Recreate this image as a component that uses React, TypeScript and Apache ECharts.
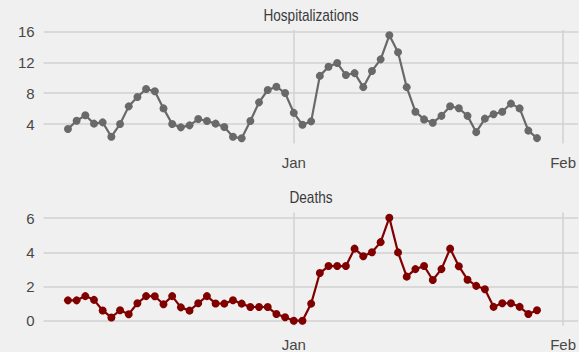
import React, { useEffect, useRef } from "react";
import * as echarts from "echarts";

const dates: string[] = [
  "2020-12-06", "2020-12-07", "2020-12-08", "2020-12-09", "2020-12-10", "2020-12-11", "2020-12-12",
  "2020-12-13", "2020-12-14", "2020-12-15", "2020-12-16", "2020-12-17", "2020-12-18", "2020-12-19",
  "2020-12-20", "2020-12-21", "2020-12-22", "2020-12-23", "2020-12-24", "2020-12-25", "2020-12-26",
  "2020-12-27", "2020-12-28", "2020-12-29", "2020-12-30", "2020-12-31", "2021-01-01", "2021-01-02",
  "2021-01-03", "2021-01-04", "2021-01-05", "2021-01-06", "2021-01-07", "2021-01-08", "2021-01-09",
  "2021-01-10", "2021-01-11", "2021-01-12", "2021-01-13", "2021-01-14", "2021-01-15", "2021-01-16",
  "2021-01-17", "2021-01-18", "2021-01-19", "2021-01-20", "2021-01-21", "2021-01-22", "2021-01-23",
  "2021-01-24", "2021-01-25", "2021-01-26", "2021-01-27", "2021-01-28", "2021-01-29",
];

const hospitalizations: number[] = [
  3.35, 4.43, 5.13, 4.05, 4.22, 2.36, 4.0, 6.29, 7.5, 8.54, 8.24, 6.03, 4.0, 3.57,
  3.83, 4.65, 4.39, 4.05, 3.61, 2.36, 2.15, 4.39, 6.81, 8.41, 8.84, 8.02, 5.45, 3.9,
  4.35, 10.24, 11.43, 11.9, 10.35, 10.6, 8.78, 10.88, 12.38, 15.5, 13.29, 8.78, 5.6, 4.6,
  4.17, 5.06, 6.3, 6.05, 5.06, 2.95, 4.7, 5.26, 5.6, 6.65, 6.03, 3.15, 2.18,
];

const deaths: number[] = [
  1.19, 1.19, 1.44, 1.22, 0.6, 0.19, 0.61, 0.38, 1.02, 1.44, 1.43, 0.96, 1.44, 0.78,
  0.59, 1.02, 1.44, 1.01, 1.0, 1.2, 1.0, 0.8, 0.8, 0.8, 0.39, 0.2, 0.0, 0.0,
  1.0, 2.79, 3.2, 3.2, 3.2, 4.22, 3.77, 4.01, 4.6, 6.03, 4.0, 2.58, 3.02, 3.2,
  2.38, 3.02, 4.22, 3.19, 2.4, 2.04, 1.84, 0.81, 1.02, 1.02, 0.81, 0.39, 0.61,
];

const hospTicks: number[] = [4, 8, 12, 16];
const deathTicks: number[] = [0, 2, 4, 6];
const monthTicks: string[] = ["2021-01-01", "2021-02-01"];
const monthLabels: string[] = ["Jan", "Feb"];
const titles: string[] = ["Hospitalizations", "Deaths"];

const DAY = 86400000;
const toTs = (s: string) => {
  const [y, m, d] = s.split("-").map(Number);
  return Date.UTC(y, m - 1, d);
};

const FONT = "'Liberation Sans', Arial, sans-serif";
const TEXT = "#474747";
const GRID = "#d2d2d2";

export default function App() {
  const ref = useRef<HTMLDivElement>(null);
  useEffect(() => {
    if (!ref.current) return;
    const chart = echarts.init(ref.current, null, { renderer: "svg" });
    const t0 = toTs(dates[0]);
    const xMin = t0 - 2.8 * DAY;
    const xMax = t0 + 58.74 * DAY;
    const monthTs = monthTicks.map(toTs);
    const fmt = (v: number) => {
      const i = monthTs.findIndex((t) => Math.abs(t - v) < DAY / 2);
      return i >= 0 ? monthLabels[i] : "";
    };
    const mkX = (gridIndex: number) => ({
      type: "value" as const,
      gridIndex,
      min: xMin,
      max: xMax,
      axisLine: { show: false },
      axisTick: { show: false, customValues: monthTs },
      axisLabel: {
        customValues: monthTs,
        formatter: fmt,
        color: TEXT,
        fontFamily: FONT,
        fontSize: 15,
        margin: 11,
      },
      splitLine: { show: true, lineStyle: { color: GRID, width: 1.5 } },
    });
    const mkY = (gridIndex: number, min: number, max: number, ticks: number[]) => ({
      type: "value" as const,
      gridIndex,
      min,
      max,
      axisLine: { show: false },
      axisTick: { show: false, customValues: ticks },
      axisLabel: {
        customValues: ticks,
        color: TEXT,
        fontFamily: FONT,
        fontSize: 15,
        margin: 9,
      },
      splitLine: { show: true, lineStyle: { color: GRID, width: 1.5 } },
    });
    const ts = dates.map(toTs);
    const titleText = (text: string, y: number) => ({
      type: "text",
      x: 311,
      y,
      scaleX: 0.85,
      style: {
        text,
        fill: "#3a3a3a",
        font: `16px ${FONT}`,
        textAlign: "center",
        textVerticalAlign: "middle",
      },
    });
    chart.setOption({
      animation: false,
      backgroundColor: "#f0f0f0",
      grid: [
        { left: 43.6, right: 0, top: 30.1, height: 113.4 },
        { left: 43.6, right: 0, top: 212.6, height: 113.2 },
      ],
      xAxis: [mkX(0), mkX(1)],
      yAxis: [
        mkY(0, 1.48, 16.17, hospTicks),
        mkY(1, -0.3, 6.33, deathTicks),
      ],
      graphic: [titleText(titles[0], 15.5), titleText(titles[1], 198)],
      series: [
        {
          type: "line",
          name: titles[0],
          xAxisIndex: 0,
          yAxisIndex: 0,
          data: ts.map((t, i) => [t, hospitalizations[i]]),
          symbol: "circle",
          symbolSize: 8,
          showAllSymbol: true,
          lineStyle: { color: "#696969", width: 2.2 },
          itemStyle: { color: "#696969" },
        },
        {
          type: "line",
          name: titles[1],
          xAxisIndex: 1,
          yAxisIndex: 1,
          data: ts.map((t, i) => [t, deaths[i]]),
          symbol: "circle",
          symbolSize: 8,
          showAllSymbol: true,
          lineStyle: { color: "#800000", width: 2.2 },
          itemStyle: { color: "#800000" },
        },
      ],
    });
    return () => chart.dispose();
  }, []);
  return (
    <div
      ref={ref}
      style={{ position: "fixed", left: 0, top: 0, width: 579, height: 352 }}
    />
  );
}
